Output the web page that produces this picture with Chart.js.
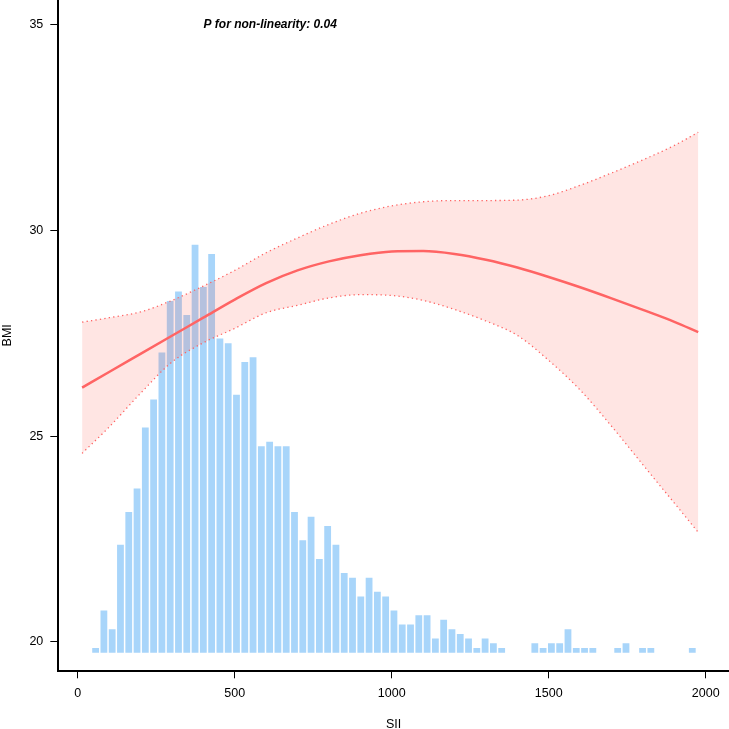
<!DOCTYPE html>
<html>
<head>
<meta charset="utf-8">
<script src="https://cdn.jsdelivr.net/npm/chart.js@4"></script>
<style>
  html, body { margin: 0; padding: 0; background: #fff; }
  #wrap { width: 729px; height: 729px; }
</style>
</head>
<body>
<div id="wrap"><canvas id="myChart" width="729" height="729"></canvas></div>
<script>
// spline fit of BMI on SII with 95% CI
var sii = [14, 100, 200, 300, 400, 500, 600, 700, 800, 900, 1000, 1100, 1200, 1300, 1400, 1500, 1600, 1700, 1800, 1900, 1976];
var fit = [26.18, 26.56, 27.00, 27.44, 27.88, 28.32, 28.72, 29.03, 29.25, 29.40, 29.49, 29.50, 29.43, 29.29, 29.10, 28.87, 28.62, 28.35, 28.07, 27.78, 27.53];
var upper = [27.77, 27.88, 28.02, 28.30, 28.65, 29.03, 29.46, 29.82, 30.15, 30.42, 30.60, 30.70, 30.73, 30.73, 30.74, 30.85, 31.10, 31.40, 31.72, 32.07, 32.39];
var lower = [24.58, 25.22, 26.04, 26.80, 27.27, 27.62, 28.00, 28.18, 28.36, 28.44, 28.42, 28.30, 28.08, 27.80, 27.45, 26.84, 26.12, 25.24, 24.30, 23.37, 22.66];

// histogram of SII (frequency per bin)
var binStart = 43.8;
var binWidth = 26.39;
var counts = [1, 9, 5, 23, 30, 35, 48, 54, 64, 75,
              77, 72, 87, 78, 85, 67, 66, 55, 62, 63,
              44, 45, 44, 44, 30, 24, 29, 20, 27, 23,
              17, 16, 12, 16, 13, 12, 9, 6, 6, 8,
              8, 3, 7, 5, 4, 3, 1, 3, 2, 1,
              0, 0, 0, 2, 1, 2, 2, 5, 1, 1,
              1, 0, 0, 1, 2, 0, 1, 1, 0, 0,
              0, 0, 1];

var xTicks = [0, 500, 1000, 1500, 2000];
var yTicks = [20, 25, 30, 35];
var pText = "P for non-linearity: 0.04";

var FONT = "'Liberation Sans', Arial, Helvetica, sans-serif";
var lineRed = "#ff6464";

function pts(ys) {
    return sii.map(function (x, i) { return { x: x, y: ys[i] }; });
}
var histData = counts.map(function (c, i) {
    return { x: binStart + binWidth * (i + 0.5), y: c };
});

var pLabel = {
    id: "pLabel",
    afterDraw: function (chart) {
        var ctx = chart.ctx;
        var x = chart.scales.x.getPixelForValue(613);
        var y = chart.scales.y.getPixelForValue(35);
        ctx.save();
        ctx.font = "italic bold 12px " + FONT;
        ctx.fillStyle = "#000";
        ctx.textAlign = "center";
        ctx.textBaseline = "middle";
        ctx.fillText(pText, x, y);
        ctx.restore();
    }
};

function noPad(s) {
    s.paddingTop = 0;
    s.paddingBottom = 0;
    s.paddingLeft = 0;
    s.paddingRight = 0;
}

var config = {
    type: "line",
    data: {
        datasets: [
            {
                type: "bar",
                data: histData,
                yAxisID: "yc",
                backgroundColor: "rgb(168, 213, 250)",
                borderWidth: 0,
                barPercentage: 0.82,
                categoryPercentage: 1,
                order: 10,
            },
            {
                data: pts(lower),
                borderColor: lineRed,
                borderWidth: 1.3,
                borderDash: [1.3, 3.2],
                pointRadius: 0,
                cubicInterpolationMode: "monotone",
                fill: false,
                order: 5,
            },
            {
                data: pts(upper),
                borderColor: lineRed,
                borderWidth: 1.3,
                borderDash: [1.3, 3.2],
                backgroundColor: "rgba(255, 80, 70, 0.15)",
                pointRadius: 0,
                cubicInterpolationMode: "monotone",
                fill: "-1",
                order: 4,
            },
            {
                data: pts(fit),
                borderColor: lineRed,
                borderWidth: 2.5,
                pointRadius: 0,
                cubicInterpolationMode: "monotone",
                fill: false,
                order: 1,
            },
        ],
    },
    options: {
        responsive: false,
        animation: false,
        layout: { padding: 0, autoPadding: false },
        plugins: {
            legend: { display: false },
            tooltip: { enabled: false },
        },
        scales: {
            x: {
                type: "linear",
                min: -61.8,
                max: 2074,
                offset: false,
                afterBuildTicks: function (s) { s.ticks = xTicks.map(function (v) { return { value: v }; }); },
                afterFit: function (s) { s.height = 58.3; noPad(s); },
                grid: { drawOnChartArea: false, drawTicks: true, tickLength: 7.6, tickColor: "#000", tickWidth: 1, offset: false },
                border: { display: true, color: "#000", width: 2 },
                ticks: {
                    color: "#000", padding: 8, maxRotation: 0, autoSkip: false,
                    font: { size: 12.5, family: FONT },
                    callback: function (v) { return String(v); },
                },
                title: { display: true, text: "SII", color: "#000", font: { size: 12.5, family: FONT }, padding: { top: 0, bottom: -3 } },
            },
            y: {
                type: "linear",
                min: 19.293,
                max: 35.608,
                afterBuildTicks: function (s) { s.ticks = yTicks.map(function (v) { return { value: v }; }); },
                afterFit: function (s) { s.width = 58.3; noPad(s); },
                grid: { drawOnChartArea: false, drawTicks: true, tickLength: 8, tickColor: "#000", tickWidth: 1 },
                border: { display: true, color: "#000", width: 2 },
                ticks: {
                    color: "#000", padding: 7,
                    font: { size: 12.5, family: FONT },
                    callback: function (v) { return String(v); },
                },
                title: { display: true, text: "BMI", color: "#000", font: { size: 12.5, family: FONT }, padding: { top: 0, bottom: 0 } },
            },
            yc: {
                type: "linear",
                display: false,
                min: -3.84,
                max: 139.17,
                afterFit: noPad,
            },
        },
    },
    plugins: [pLabel],
};

var ctx = document.getElementById("myChart");
window.myChart = new Chart(ctx, config);
</script>
</body>
</html>
